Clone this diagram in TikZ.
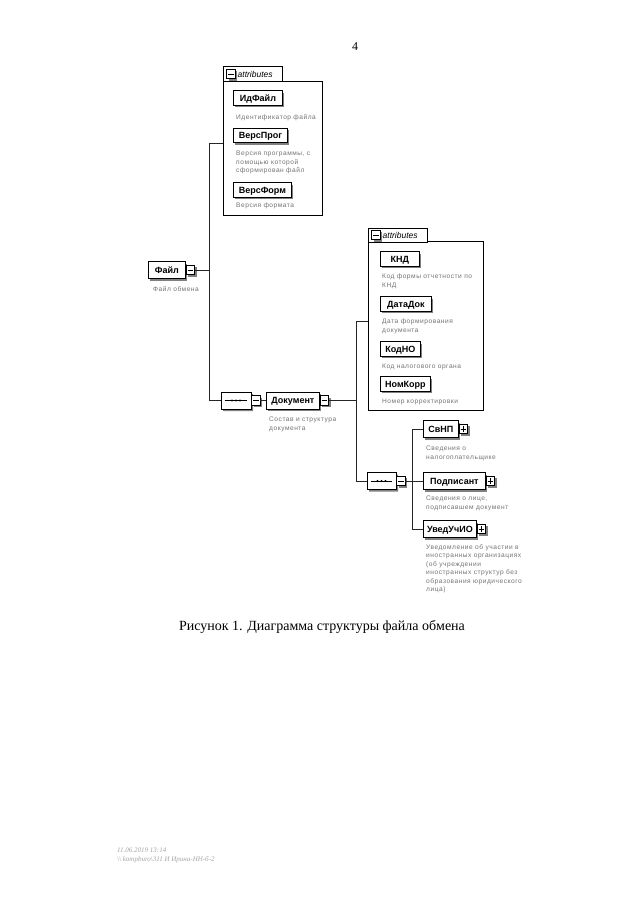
\documentclass[tikz,border=0pt]{standalone}
\usepackage{fontspec}
\setmainfont{Liberation Serif}
\newfontfamily\lsans{Liberation Sans}
\newfontfamily\dsans[LetterSpace=8]{Liberation Sans}
\usetikzlibrary{shapes.misc,shadows}
\tikzset{
  shd/.style={drop shadow={shadow xshift=2pt, shadow yshift=-2pt, fill=black!50, opacity=1}},
  elem/.style={draw=black, line width=0.8pt, fill=white, shd, font=\lsans\bfseries\fontsize{9}{10}\selectfont, inner xsep=1pt, inner ysep=0pt, text height=6.6pt, text depth=0pt, minimum height=17pt, anchor=west},
  att/.style={elem, minimum height=14.5pt},
  desc/.style={anchor=north west, inner sep=0pt, align=left, text=black!55, font=\dsans\fontsize{6.6}{8.5}\selectfont},
  ico/.style={draw=black, line width=0.6pt, fill=white, shd, minimum width=8.5pt, minimum height=9.5pt, inner sep=0pt, anchor=west},
  wire/.style={line width=0.8pt, draw=black!85},
  grp/.style={draw=black, line width=0.7pt, inner sep=0pt, anchor=north west},
  seqnode/.style={chamfered rectangle, chamfered rectangle xsep=3.5pt, draw=black, line width=0.7pt, fill=white, shd, minimum width=30pt, minimum height=17pt, inner sep=0pt},
  tabtext/.style={anchor=west, inner sep=0pt, font=\lsans\itshape\fontsize{8.5}{10}\selectfont},
}
\newcommand{\icominus}[1]{\draw[line width=0.6pt] ([xshift=1.8pt]#1.west) -- ([xshift=-1.8pt]#1.east);}
\newcommand{\icoplus}[1]{\icominus{#1}\draw[line width=0.6pt] ([yshift=-1.8pt]#1.north) -- ([yshift=1.8pt]#1.south);}
\newcommand{\seqdots}[1]{%
  \draw[line width=0.6pt] ([xshift=4pt]#1.west) -- ([xshift=-4pt]#1.east);
  \fill ([xshift=-4pt]#1.center) circle (1.1pt) (#1.center) circle (1.1pt) ([xshift=4pt]#1.center) circle (1.1pt);}
\begin{document}
\begin{tikzpicture}[x=1pt,y=-1pt]
\useasboundingbox (0,0) rectangle (640,905);
\fill[white] (0,0) rectangle (640,905);

% page number
\node[font=\fontsize{12}{14}\selectfont] (pnum) at (355,47) {4};

% ---------- attribute group 1 ----------
\node[grp, minimum width=99pt, minimum height=134pt] (ab1) at (223,81) {};
\node[grp, fill=white, minimum width=59pt, minimum height=15pt] (tab1) at (223,66) {};
\node[ico, shd/.style={}, anchor=center] (tab1m) at (231,74) {};
\icominus{tab1m}
\node[tabtext] (tab1t) at (237.5,74) {attributes};

\node[att, minimum width=49pt] (idf) at (233,98) {ИдФайл};
\node[desc] (idfd) at (236,114) {Идентификатор файла};
\node[att, minimum width=54pt] (vprog) at (233,135.5) {ВерсПрог};
\node[desc] (vprogd) at (236,151) {Версия программы, с\\помощью которой\\сформирован файл};
\node[att, minimum width=58pt] (vform) at (233,190) {ВерсФорм};
\node[desc] (vformd) at (236,203) {Версия формата};

% ---------- root ----------
\node[elem, minimum width=37pt] (fajl) at (148,270) {Файл};
\node[ico] (fajlm) at (fajl.east) {};
\icominus{fajlm}
\node[desc] (fajld) at (153,286) {Файл обмена};

\coordinate (j1) at (209,143);
\coordinate (j2) at (209,400.5);
\draw[wire] (fajlm.east) -- (fajlm.east -| j1);
\draw[wire] (j1) -- (j2);
\draw[wire] (j1) -- (j1 -| ab1.west);

% ---------- sequence 1 and Документ ----------
\node[seqnode] (seq1) at (236,400.5) {};
\seqdots{seq1}
\node[ico] (seq1m) at (seq1.east) {};
\icominus{seq1m}
\draw[wire] (j2) -- (seq1.west);

\node[elem, minimum width=53pt] (doc) at (266,400.5) {Документ};
\node[ico] (docm) at (doc.east) {};
\icominus{docm}
\node[desc] (docd) at (269,417) {Состав и структура\\документа};
\draw[wire] (seq1m.east) -- (doc.west);

% ---------- attribute group 2 ----------
\node[grp, minimum width=115pt, minimum height=169pt] (ab2) at (368,241) {};
\node[grp, fill=white, minimum width=59pt, minimum height=14pt] (tab2) at (368,228) {};
\node[ico, shd/.style={}, anchor=center] (tab2m) at (376,235) {};
\icominus{tab2m}
\node[tabtext] (tab2t) at (382.5,235) {attributes};

\node[att, minimum width=39pt] (knd) at (380,259) {КНД};
\node[desc] (kndd) at (382,274) {Код формы отчетности по\\КНД};
\node[att, minimum width=51pt] (datadok) at (380,304) {ДатаДок};
\node[desc] (datadokd) at (382,319) {Дата формирования\\документа};
\node[att, minimum width=40pt] (kodno) at (380,349) {КодНО};
\node[desc] (kodnod) at (382,364) {Код налогового органа};
\node[att, minimum width=50pt] (nomkorr) at (380,384) {НомКорр};
\node[desc] (nomkorrd) at (382,399) {Номер корректировки};

\coordinate (j3) at (356,321);
\coordinate (j4) at (356,481);
\draw[wire] (docm.east) -- (docm.east -| j3);
\draw[wire] (j3) -- (j4);
\draw[wire] (j3) -- (j3 -| ab2.west);

% ---------- sequence 2 and children ----------
\node[seqnode, minimum width=29pt] (seq2) at (381.5,481) {};
\seqdots{seq2}
\node[ico] (seq2m) at (seq2.east) {};
\icominus{seq2m}
\draw[wire] (j4) -- (seq2.west);

\node[elem, minimum width=35pt] (svnp) at (423,429) {СвНП};
\node[ico] (svnpp) at (svnp.east) {};
\icoplus{svnpp}
\node[desc] (svnpd) at (426,446) {Сведения о\\налогоплательщике};

\node[elem, minimum width=62pt] (podp) at (423,481) {Подписант};
\node[ico] (podpp) at (podp.east) {};
\icoplus{podpp}
\node[desc] (podpd) at (426,496) {Сведения о лице,\\подписавшем документ};

\node[elem, minimum width=53pt] (uved) at (423,529) {УведУчИО};
\node[ico] (uvedp) at (uved.east) {};
\icoplus{uvedp}
\node[desc] (uvedd) at (426,544) {Уведомление об участии в\\иностранных организациях\\(об учреждении\\иностранных структур без\\образования юридического\\лица)};

\coordinate (j5) at (412,429);
\coordinate (j6) at (412,529);
\draw[wire] (seq2m.east) -- (seq2m.east -| j5);
\draw[wire] (j5) -- (j6);
\draw[wire] (j5) -- (svnp.west);
\draw[wire] (seq2m.east -| j5) -- (podp.west);
\draw[wire] (j6) -- (uved.west);

% ---------- caption ----------
\node[font=\fontsize{14}{16}\selectfont] (cap) at (322,627) {Рисунок 1. Диаграмма структуры файла обмена};

% ---------- footer ----------
\node[anchor=west, inner sep=0pt, text=black!35, align=left, font=\itshape\fontsize{7}{9}\selectfont] (foot) at (117,855) {11.06.2019 13:14\\\textbackslash\textbackslash\ kompburo\textbackslash 311 И Ирина-НН-б-2};
\end{tikzpicture}
\end{document}
